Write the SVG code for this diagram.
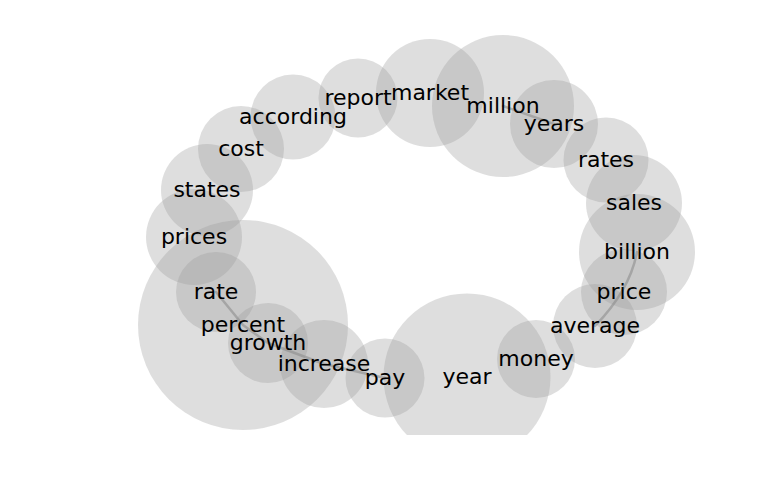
<svg xmlns="http://www.w3.org/2000/svg" width="768" height="500" viewBox="0 0 768 500">
<style>
.node circle{fill:#9c9c9c;fill-opacity:0.33;stroke:none}
.link{fill:none;stroke:#888;stroke-opacity:0.55;stroke-width:2.5;stroke-linejoin:round;stroke-linecap:round}
.label{font-family:"DejaVu Sans",sans-serif;font-size:22px;fill:#000;text-anchor:middle}
</style>
<defs>
<clipPath id="plot"><rect x="0" y="0" width="768" height="435"/></clipPath>
</defs>
<rect width="768" height="500" fill="#fff"/>
<g clip-path="url(#plot)">
<g id="nodes">
<g id="node-percent" class="node"><circle cx="243" cy="325" r="105"/></g>
<g id="node-prices" class="node"><circle cx="194" cy="237" r="48"/></g>
<g id="node-states" class="node"><circle cx="207" cy="190" r="46"/></g>
<g id="node-cost" class="node"><circle cx="241" cy="149" r="43"/></g>
<g id="node-according" class="node"><circle cx="293" cy="117" r="42.5"/></g>
<g id="node-report" class="node"><circle cx="358" cy="98" r="39.5"/></g>
<g id="node-market" class="node"><circle cx="430" cy="93" r="54"/></g>
<g id="node-million" class="node"><circle cx="503" cy="106" r="71"/></g>
<g id="node-years" class="node"><circle cx="554" cy="124" r="44"/></g>
<g id="node-rates" class="node"><circle cx="606" cy="160" r="42.5"/></g>
<g id="node-sales" class="node"><circle cx="634" cy="203" r="48"/></g>
<g id="node-billion" class="node"><circle cx="637" cy="252" r="58"/></g>
<g id="node-price" class="node"><circle cx="624" cy="292" r="43"/></g>
<g id="node-average" class="node"><circle cx="595" cy="326" r="42"/></g>
<g id="node-money" class="node"><circle cx="536" cy="359" r="39"/></g>
<g id="node-year" class="node"><circle cx="467" cy="377" r="83.5"/></g>
<g id="node-pay" class="node"><circle cx="385" cy="378" r="39.5"/></g>
<g id="node-increase" class="node"><circle cx="324" cy="364" r="44"/></g>
<g id="node-growth" class="node"><circle cx="268" cy="343" r="40"/></g>
<g id="node-rate" class="node"><circle cx="216" cy="292" r="40"/></g>
</g>
<g id="connectors">
<path class="link" d="M216,292 L243,325 L268,343 L324,364 L385,378"/>
<path class="link" d="M637,252 Q630,290 595,326"/>
<path class="link" d="M503,106 L554,124"/>
</g>
<g id="labels">
<text class="label" id="label-percent" x="243" y="331.5">percent</text>
<text class="label" id="label-prices" x="194" y="243.5">prices</text>
<text class="label" id="label-states" x="207" y="196.5">states</text>
<text class="label" id="label-cost" x="241" y="155.5">cost</text>
<text class="label" id="label-according" x="293" y="123.5">according</text>
<text class="label" id="label-report" x="358" y="104.5">report</text>
<text class="label" id="label-market" x="430" y="99.5">market</text>
<text class="label" id="label-million" x="503" y="112.5">million</text>
<text class="label" id="label-years" x="554" y="130.5">years</text>
<text class="label" id="label-rates" x="606" y="166.5">rates</text>
<text class="label" id="label-sales" x="634" y="209.5">sales</text>
<text class="label" id="label-billion" x="637" y="258.5">billion</text>
<text class="label" id="label-price" x="624" y="298.5">price</text>
<text class="label" id="label-average" x="595" y="332.5">average</text>
<text class="label" id="label-money" x="536" y="365.5">money</text>
<text class="label" id="label-year" x="467" y="383.5">year</text>
<text class="label" id="label-pay" x="385" y="384.5">pay</text>
<text class="label" id="label-increase" x="324" y="370.5">increase</text>
<text class="label" id="label-growth" x="268" y="349.5">growth</text>
<text class="label" id="label-rate" x="216" y="298.5">rate</text>
</g>
</g>
</svg>
